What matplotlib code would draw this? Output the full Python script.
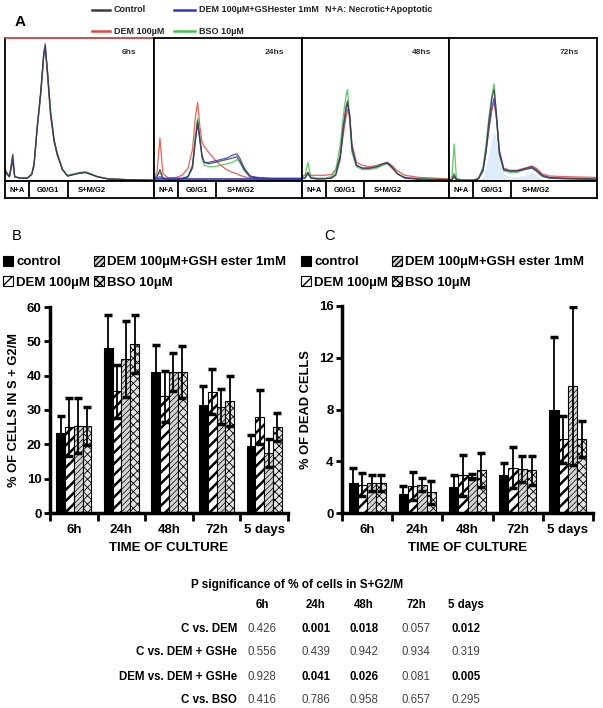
import matplotlib
matplotlib.use("Agg")
import matplotlib.pyplot as plt
from matplotlib.lines import Line2D
import numpy as np

plt.rcParams['font.family'] = ['Liberation Sans', 'DejaVu Sans']

W, H = 603, 708

# ---------------- data ----------------
times = ['6h', '24h', '48h', '72h', '5 days']
hist_titles = ['6hs', '24hs', '48hs', '72hs']
treatments = ['control', 'DEM 100µM', 'DEM 100µM+GSH ester 1mM', 'BSO 10µM']

# flow cytometry histograms (channel 0-100, relative counts 0-100)
x6 = [0, 3, 5.2, 6.5, 10, 15, 18, 19.5, 21.5, 24, 26, 27, 28.4, 30.6, 33, 35, 38.5, 42, 46, 50, 54, 58, 62, 69, 80, 100]
h6_ctrl = [8, 3, 18, 3, 2, 2, 5, 12, 37, 63, 90, 96, 77, 47, 28, 19, 8, 3.5, 4.5, 5.5, 6, 4.5, 3, 1.5, 1, 0.5]
h6_dem = [7, 3, 19, 3, 2, 2, 5, 11, 35, 60, 88, 93, 75, 45, 27, 18, 8, 3.5, 4.5, 5.5, 6, 4.5, 3, 1.5, 1, 0.5]
h6_gsh = [6, 3, 14, 3, 2, 2, 4.5, 11, 36, 62, 88, 94, 78, 48, 28, 19, 8, 3.5, 4.5, 5.5, 6, 4.5, 3, 1.5, 1, 0.5]
h6_bso = [6, 3, 15, 3, 2, 2, 5, 12, 36, 61, 87, 92, 79, 49, 29, 20, 8.5, 4, 5, 6, 6.5, 5, 3, 1.5, 1, 0.5]

x24 = [0, 2, 4, 6, 10, 15, 19, 23, 26, 28, 29.5, 31, 32.5, 34, 37, 41, 45, 49, 53, 56, 58, 61, 65, 70, 80, 100]
h24_ctrl = [2, 3, 8, 2, 1, 1, 1.5, 3, 10, 30, 42, 30, 18, 13, 12, 13, 14, 15, 16, 17, 14, 8, 3, 2, 1.5, 1]
h24_dem = [3, 6, 30, 5, 2, 2.5, 4, 9, 22, 45, 55, 38, 27, 24, 20, 15, 11, 8, 6, 5, 4, 3, 2, 1.5, 1, 0.5]
h24_gsh = [2, 2, 3, 2, 2, 2, 2, 3, 9, 28, 40, 28, 17, 13, 13, 14, 15, 16, 18, 19, 16, 9, 3.5, 2.5, 2, 2]
h24_bso = [2, 4, 6, 2, 1, 1, 1.5, 3, 12, 32, 44, 30, 15, 11, 10, 10, 11, 12, 13, 15, 13, 7, 2.5, 2, 1.5, 1]

x48 = [0, 2, 4, 6, 10, 15, 20, 23, 26, 28, 30, 31, 32.5, 34, 37, 41, 46, 51, 55, 58, 61, 65, 70, 80, 100]
h48_ctrl = [2, 2, 6, 2, 1.5, 1.5, 2, 5, 18, 38, 52, 56, 45, 22, 11, 9, 9, 10, 12, 12.5, 10, 5, 2.5, 1.5, 1]
h48_dem = [3, 4, 6, 4, 4, 4, 4.5, 8, 17, 32, 45, 50, 44, 26, 13, 11, 10, 11, 12, 13, 11, 7, 4, 2.5, 1.5]
h48_gsh = [2, 2, 5, 2, 1.5, 1.5, 2, 4, 15, 35, 50, 54, 46, 24, 11, 9, 9, 10, 12, 13, 10, 5, 2, 1, 0.5]
h48_bso = [3, 4, 13, 3, 2, 2, 3, 8, 25, 45, 60, 64, 40, 20, 10, 8, 8, 9, 11, 12, 9, 5, 2, 1.5, 1]

x72 = [0, 2, 3.5, 5, 8, 12, 17, 20, 23, 25, 27, 29, 30.5, 32, 34, 37, 41, 46, 51, 56, 59, 63, 68, 80, 100]
h72_ctrl = [1, 1, 5, 1, 0.5, 0.5, 0.5, 2, 8, 22, 42, 58, 64, 48, 20, 8, 7, 7, 8.5, 10, 8, 4, 2.5, 2, 1.5]
h72_dem = [1, 1, 3, 1, 0.5, 0.5, 0.5, 2, 8, 20, 36, 50, 55, 44, 22, 9, 7.5, 7.5, 9, 10.5, 9, 5, 3.5, 3, 2.5]
h72_gsh = [1, 1, 3, 1, 0.5, 0.5, 0.5, 1.5, 7, 20, 38, 52, 58, 46, 20, 8, 7, 7, 8, 9, 7, 3.5, 2, 1.5, 1]
h72_bso = [2, 3, 26, 2, 1, 0.5, 0.5, 2, 10, 25, 45, 60, 68, 45, 18, 7, 6, 6, 8, 9.5, 7, 3, 2, 1.5, 1]
h72_fill = [0, 0, 0, 0, 0, 0, 0, 0.5, 3, 10, 20, 30, 35, 28, 14, 5, 3, 3, 4, 6, 4, 1.5, 1, 0.5, 0]

# % of cells in S + G2/M (mean, SD)
s_ctrl = [23.3, 48.1, 41.2, 31.5, 19.6]
s_ctrl_sd = [5.0, 9.5, 7.8, 5.5, 3.2]
s_dem = [25.0, 35.4, 34.0, 35.3, 28.0]
s_dem_sd = [8.5, 7.8, 7.5, 6.5, 7.8]
s_gsh = [25.4, 44.9, 41.0, 31.0, 17.5]
s_gsh_sd = [8.0, 11.0, 5.6, 5.2, 4.0]
s_bso = [25.4, 49.3, 41.0, 32.5, 25.0]
s_bso_sd = [5.5, 8.5, 7.5, 7.3, 4.0]

# % of dead cells (mean, SD)
d_ctrl = [2.3, 1.5, 2.0, 2.9, 8.0]
d_ctrl_sd = [1.2, 0.6, 0.9, 1.0, 5.6]
d_dem = [2.2, 2.1, 2.9, 3.5, 5.7]
d_dem_sd = [0.9, 1.1, 1.6, 1.6, 1.8]
d_gsh = [2.3, 2.2, 2.8, 3.4, 9.8]
d_gsh_sd = [0.6, 0.5, 0.2, 1.0, 6.1]
d_bso = [2.3, 1.6, 3.3, 3.3, 5.7]
d_bso_sd = [0.6, 0.9, 1.3, 1.1, 1.4]

# P values table
p_rows = ['C vs. DEM', 'C vs. DEM + GSHe', 'DEM vs. DEM + GSHe', 'C vs. BSO']
p_dem = [0.426, 0.001, 0.018, 0.057, 0.012]
p_gshe = [0.556, 0.439, 0.942, 0.934, 0.319]
p_dem_gshe = [0.928, 0.041, 0.026, 0.081, 0.005]
p_bso = [0.416, 0.786, 0.958, 0.657, 0.295]

line_cols = ['#3c3c3c', '#e8463c', '#3434c8', '#40c44c']


def px_axes(x0, y0, x1, y1):
    return fig.add_axes([x0 / W, 1 - y1 / H, (x1 - x0) / W, (y1 - y0) / H])


def fy(y):
    return 1 - y / H


fig = plt.figure(figsize=(W / 100, H / 100), dpi=100)

# ---------------- panel A ----------------
fig.text(20 / W, fy(22), 'A', fontsize=11, fontweight='bold', ha='center', va='center')
leg_a = [(92, 110, 10, line_cols[0], 'Control'),
         (174, 195, 10, line_cols[2], 'DEM 100µM+GSHester 1mM'),
         (92, 110, 31, line_cols[1], 'DEM 100µM'),
         (174, 195, 31, line_cols[3], 'BSO 10µM')]
for x0, x1, y, c, t in leg_a:
    fig.add_artist(Line2D([x0 / W, x1 / W], [fy(y), fy(y)], color=c, lw=1.8,
                          transform=fig.transFigure))
    fig.text((x1 + 4) / W, fy(y), t, fontsize=6.5, fontweight='bold', va='center', color='#222222')
fig.text(325 / W, fy(10), 'N+A: Necrotic+Apoptotic', fontsize=6.5, fontweight='bold',
         va='center', color='#222222')

hist_x = [x6, x24, x48, x72]
hist_y = [[h6_ctrl, h6_dem, h6_gsh, h6_bso],
          [h24_ctrl, h24_dem, h24_gsh, h24_bso],
          [h48_ctrl, h48_dem, h48_gsh, h48_bso],
          [h72_ctrl, h72_dem, h72_gsh, h72_bso]]
box_edges = [5, 154, 302, 449, 597]
for i in range(4):
    x0, x1 = box_edges[i], box_edges[i + 1]
    ax = px_axes(x0, 38, x1, 181)
    if i == 3:
        ax.fill_between(x72, h72_fill, color='#dcecf8', lw=0)
    for k in [1, 3, 2, 0]:
        ax.plot(hist_x[i], hist_y[i][k], color=line_cols[k], lw=0.9, alpha=0.85)
    if i == 1:
        ax.axhline(1.5, color=line_cols[2], lw=1.2)
    ax.set_xlim(0, 100)
    ax.set_ylim(0, 100)
    ax.set_xticks([])
    ax.set_yticks([])
    for s in ax.spines.values():
        s.set_linewidth(1.3)
    if i == 0:
        ax.spines['top'].set_color('#c84040')
    ax.text(0.88, 0.9, hist_titles[i], transform=ax.transAxes, fontsize=6, ha='right',
            va='center', color='#333333', fontweight='bold')
    st = px_axes(x0, 181, x1, 198)
    st.set_xlim(0, 1)
    st.set_ylim(0, 1)
    st.set_xticks([])
    st.set_yticks([])
    for s in st.spines.values():
        s.set_linewidth(1.3)
    st.axvline(0.16, color='black', lw=1.3)
    st.axvline(0.42, color='black', lw=1.3)
    st.text(0.08, 0.45, 'N+A', fontsize=5.5, fontweight='bold', ha='center', va='center')
    st.text(0.29, 0.45, 'G0/G1', fontsize=5.5, fontweight='bold', ha='center', va='center')
    st.text(0.49, 0.45, 'S+M/G2', fontsize=5.5, fontweight='bold', ha='left', va='center')

# ---------------- panels B and C ----------------
bar_face = ['black', 'white', '#d4d4d4', '#e4e4e4']
hatches = [None, '///', '//////', 'xxxx']
hatch_lw = [1.0, 1.8, 0.5, 0.6]


def bar_panel(ax, means, sds, ymax, ystep, ylabel):
    x = np.arange(len(times))
    w = 0.185
    handles = []
    for k in range(4):
        pos = x + (k - 1.5) * w
        with plt.rc_context({'hatch.linewidth': hatch_lw[k]}):
            bars = ax.bar(pos, means[k], w, color=bar_face[k], edgecolor='black', lw=0.8,
                          hatch=hatches[k])
        for b in bars:
            if hasattr(b, 'set_hatch_linewidth'):
                b.set_hatch_linewidth(hatch_lw[k])
        handles.append(bars[0])
        ax.errorbar(pos, means[k], yerr=sds[k], fmt='none', ecolor='black',
                    elinewidth=1.3, capsize=3, capthick=2.5)
    ax.set_xlim(-0.5, len(times) - 0.5)
    ax.set_ylim(0, ymax)
    ax.set_yticks(np.arange(0, ymax + 0.1, ystep))
    ax.set_xticks(np.arange(-0.5, len(times), 1.0))
    ax.set_xticklabels([])
    ax.set_xticks(x, minor=True)
    ax.set_xticklabels(times, minor=True)
    ax.tick_params(axis='x', which='major', length=6, width=2, direction='out')
    ax.tick_params(axis='x', which='minor', length=0, pad=8, labelsize=9.5)
    ax.tick_params(axis='y', length=4, width=2, labelsize=9.5, pad=2)
    for lab in ax.get_xticklabels(minor=True) + ax.get_yticklabels():
        lab.set_fontweight('bold')
    ax.spines['top'].set_visible(False)
    ax.spines['right'].set_visible(False)
    ax.spines['left'].set_linewidth(2.5)
    ax.spines['bottom'].set_linewidth(2.5)
    ax.set_xlabel('TIME OF CULTURE', fontsize=9.5, fontweight='bold', labelpad=4)
    ax.set_ylabel(ylabel, fontsize=9.3, fontweight='bold', labelpad=5)
    return handles


axB = px_axes(50, 307, 288, 513)
hB = bar_panel(axB, [s_ctrl, s_dem, s_gsh, s_bso],
               [s_ctrl_sd, s_dem_sd, s_gsh_sd, s_bso_sd], 60, 10, '% OF CELLS IN S + G2/M')
axC = px_axes(342, 306, 593, 513)
hC = bar_panel(axC, [d_ctrl, d_dem, d_gsh, d_bso],
               [d_ctrl_sd, d_dem_sd, d_gsh_sd, d_bso_sd], 16, 4, '% OF DEAD CELLS')

fig.text(17 / W, fy(236), 'B', fontsize=10.5, ha='center', va='center')
fig.text(330 / W, fy(236), 'C', fontsize=10.5, ha='center', va='center')

for hnd, xl in [(hB, 3), (hC, 301)]:
    fig.legend(hnd, treatments, loc='upper left', bbox_to_anchor=(xl / W, fy(256)), ncol=2,
               frameon=False, borderpad=0, borderaxespad=0, handlelength=0.75,
               handleheight=0.75, handletextpad=0.25, columnspacing=0.3, labelspacing=0.6,
               prop={'size': 9.5, 'weight': 'bold'})

# ---------------- table ----------------
fig.text(297 / W, fy(585), 'P significance of % of cells in S+G2/M', fontsize=8.5,
         fontweight='bold', ha='center', va='center')
col_x = [262, 316, 364, 416, 466]
for cx, t in zip(col_x, times):
    fig.text(cx / W, fy(605), t, fontsize=8.3, fontweight='bold', ha='center', va='center')
row_y = [629, 652, 677, 700]
for ry, name, vals in zip(row_y, p_rows, [p_dem, p_gshe, p_dem_gshe, p_bso]):
    fig.text(237 / W, fy(ry), name, fontsize=8.3, fontweight='bold', ha='right', va='center')
    for cx, v in zip(col_x, vals):
        if v < 0.05:
            fig.text(cx / W, fy(ry), '%.3f' % v, fontsize=8.3, fontweight='bold',
                     ha='center', va='center')
        else:
            fig.text(cx / W, fy(ry), '%.3f' % v, fontsize=8.3, ha='center', va='center',
                     color='#444444')

fig.savefig('out.png', dpi=100)
